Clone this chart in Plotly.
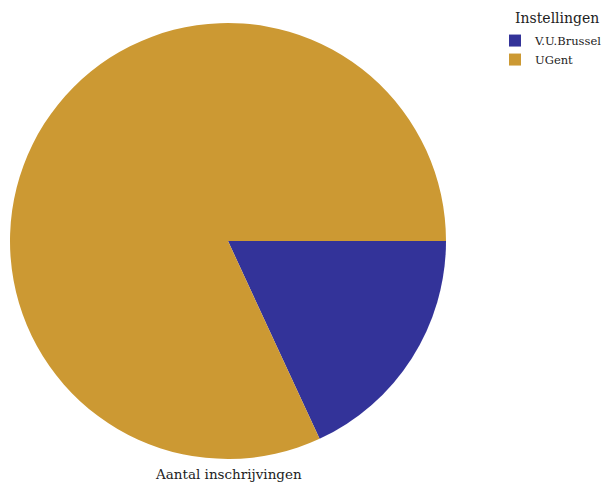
import plotly.graph_objects as go

labels = ["V.U.Brussel", "UGent"]
values = [18.1, 81.9]
colors = ["#333399", "#CC9933"]
legend_title = "Instellingen"
chart_label = "Aantal inschrijvingen"

fig = go.Figure(go.Pie(
    labels=labels, values=values, sort=False, direction="clockwise", rotation=90,
    marker=dict(colors=colors), textinfo="none", hoverinfo="label+value+percent",
))
fig.update_layout(
    width=611, height=482,
    margin=dict(l=2, r=173, t=15, b=31, autoexpand=False),
    paper_bgcolor="white", plot_bgcolor="white",
    font=dict(family="DejaVu Serif", size=12, color="#222"),
    legend=dict(x=1.1124, xanchor="left", y=0.993, yanchor="top",
                font=dict(size=11.5), itemsizing="constant"),
    annotations=[
        dict(text=chart_label, x=0.5, y=-0.0344, xref="paper", yref="paper",
             xanchor="center", yanchor="middle", showarrow=False, font=dict(size=13.5)),
        dict(text=legend_title, x=1.1537, y=1.0115, xref="paper", yref="paper",
             xanchor="left", yanchor="middle", showarrow=False, font=dict(size=14)),
    ],
)
fig.write_html("out.html")
